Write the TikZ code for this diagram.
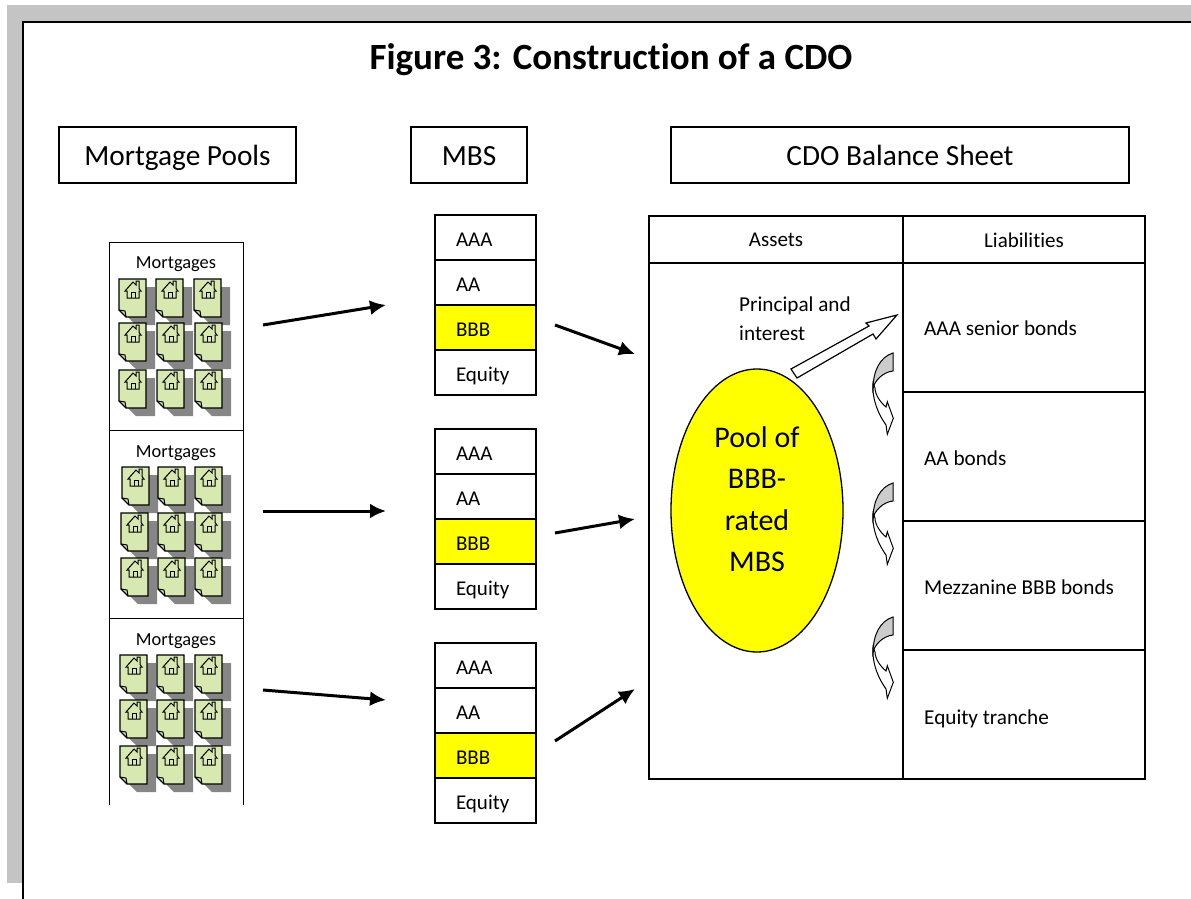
\documentclass[tikz,border=0pt]{standalone}
\usepackage{fontspec}
\setmainfont{Carlito}[Ligatures=CommonOff]
\usetikzlibrary{arrows.meta, shapes.geometric}
\definecolor{framegray}{HTML}{C4C4C4}
\definecolor{docgreen}{HTML}{D7E8B0}
\definecolor{shadegray}{HTML}{868686}
\definecolor{poolyellow}{RGB}{255,255,0}
\newcommand{\fsize}[1]{\fontsize{#1}{#1}\selectfont}
\tikzset{
x=1pt, y=-1pt, % one unit is one pixel of the layout, y runs downwards
headbox/.style={draw, line width=1.3pt, minimum height=56pt, text height=24pt, text depth=4pt, font=\fsize{29.3}}, % the three titles on top
tranche/.style={draw, line width=1.3pt, inner xsep=21pt, text width=59pt, align=left, minimum height=45pt, text height=20pt, text depth=2pt, font=\fsize{21}}, % one row of an MBS stack
label/.style={font=\fsize{21.2}, inner sep=0pt, anchor=west}, % text inside the balance sheet
flow/.style={line width=3pt, -{Latex[length=16pt,width=15pt]}}, % the thick black arrows
mortgage/.pic={
    \fill[shadegray] (9,8) -- (36,8) -- (36,46) -- (17,46) -- (9,38) -- cycle;
    \draw[line width=1.2pt, fill=docgreen] (0,0) -- (27,0) -- (27,38) -- (7,38) -- (0,31) -- cycle;
    \draw[line width=1pt] (0,31) -- (6,32) -- (7,38);
    \draw[line width=1pt] (6,12) -- (14,3) -- (17,6) -- (17,2) -- (20,2) -- (20,9.5) -- (22,12) -- (20,12) -- (20,19) -- (8,19) -- (8,12) -- cycle;
    \draw[line width=1pt] (12,19) -- (12,13) -- (16,13) -- (16,19);
},
curl/.pic={
    \draw[line width=1pt, fill=white] (-20,30) .. controls (-21,48) and (-14,62) .. (-7,72) -- (-5.7,81.3) -- (0.3,65.3) -- (-5.7,48.7) -- (-7,54) .. controls (-12,50) and (-18,42) .. (-18,35) -- cycle;
    \draw[line width=1pt, fill=gray!40] (0,0) .. controls (-13,4) and (-20,18) .. (-20,36) .. controls (-19,28) and (-10,19) .. (0,18) -- cycle;
},
}

\begin{document}
\begin{tikzpicture}
    \useasboundingbox (0,0) rectangle (1191,899);

    % page frame
    \fill[framegray] (7,5) rectangle (1191,21);
    \fill[framegray] (7,5) rectangle (22,883);
    \draw[line width=2.5pt] (1191,22) -| (23,899);

    \node[font=\bfseries\fsize{37}] (title) at (611,60) {Figure 3: Construction of a CDO};
    \node[headbox, minimum width=237pt] (headPools) at (177.5,155) {Mortgage Pools};
    \node[headbox, minimum width=116pt] (headMBS) at (469,155) {MBS};
    \node[headbox, minimum width=458pt] (headCDO) at (900,155) {CDO Balance Sheet};

    % mortgage pools
    \draw[line width=.8pt] (109,805) -- (109,242) -- (243,242) -- (243,805);
    \draw[line width=.8pt] (109,430) -- (243,430);
    \draw[line width=.8pt] (109,618) -- (243,618);
    \foreach \n/\y in {1/264, 2/453, 3/641}
        \node[font=\fsize{18.4}] (mort\n) at (176,\y) {Mortgages};
    \foreach \x/\y in {119/279, 156/279, 194/279, 119/323, 157/323, 195/323, 119/370, 157/370, 195/370,
                       122/467, 158/467, 195/467, 121/513, 158/513, 195/513, 121/558, 158/558, 195/558,
                       120/655, 157/655, 195/655, 120/700, 157/700, 195/700, 120/746, 157/746, 195/746}
        \pic at (\x,\y) {mortgage};

    % MBS stacks
    \foreach \n/\y in {1/215, 2/429, 3/643} {
        \node[tranche] (aaa\n) at (485.5,\y+22.5) {AAA};
        \node[tranche] (aa\n) at (485.5,\y+67.5) {AA};
        \node[tranche, fill=poolyellow] (bbb\n) at (485.5,\y+112.5) {BBB};
        \node[tranche] (equity\n) at (485.5,\y+157.5) {Equity};
    }

    % balance sheet
    \draw[line width=1.6pt] (649,216) rectangle (1145,779);
    \draw[line width=1.6pt] (903,216) -- (903,779);
    \draw[line width=1.6pt] (649,263) -- (1145,263);
    \foreach \y in {392, 521, 650}
        \draw[line width=1.6pt] (903,\y) -- (1145,\y);
    \node[font=\fsize{21}] (assets) at (776,240) {Assets};
    \node[font=\fsize{21}] (liab) at (1024,240) {Liabilities};
    \node[label] (senior) at (924,328) {AAA senior bonds};
    \node[label] (aabonds) at (924,458) {AA bonds};
    \node[label] (mezz) at (924,587) {Mezzanine BBB bonds};
    \node[label] (eqtr) at (924,719) {Equity tranche};
    \node[label] (princ) at (739,306) {Principal and};
    \node[label] (inter) at (739,333) {interest};

    \node[draw, ellipse, line width=1.3pt, fill=poolyellow, minimum width=172pt, minimum height=283pt, inner sep=0pt] (pool) at (757,510.5) {};
    \node[font=\fsize{30}] (p1) at (757,437) {Pool of};
    \node[font=\fsize{30}] (p2) at (757,479) {BBB-};
    \node[font=\fsize{30}] (p3) at (757,520) {rated};
    \node[font=\fsize{30}] (p4) at (757,562) {MBS};

    \draw[line width=1.2pt, fill=white] (791,369) -- (869,326) -- (866,323) -- (897,315) -- (876,339) -- (873,334) -- (797,378) -- cycle;

    \pic at (893,353) {curl};
    \pic at (893,483) {curl};
    \pic at (893,617) {curl};

    % arrows
    \coordinate (a1) at (263,325);
    \coordinate (b1) at (386,305);
    \coordinate (a2) at (263,511);
    \coordinate (b2) at (386,511);
    \coordinate (a3) at (263,690);
    \coordinate (b3) at (386,700);
    \coordinate (c1) at (555,325);
    \coordinate (d1) at (635,354);
    \coordinate (c2) at (555,533);
    \coordinate (d2) at (635,519);
    \coordinate (c3) at (555,741);
    \coordinate (d3) at (635,689);
    \foreach \n in {1,2,3} {
        \draw[flow] (a\n) -- (b\n);
        \draw[flow] (c\n) -- (d\n);
    }
\end{tikzpicture}
\end{document}
